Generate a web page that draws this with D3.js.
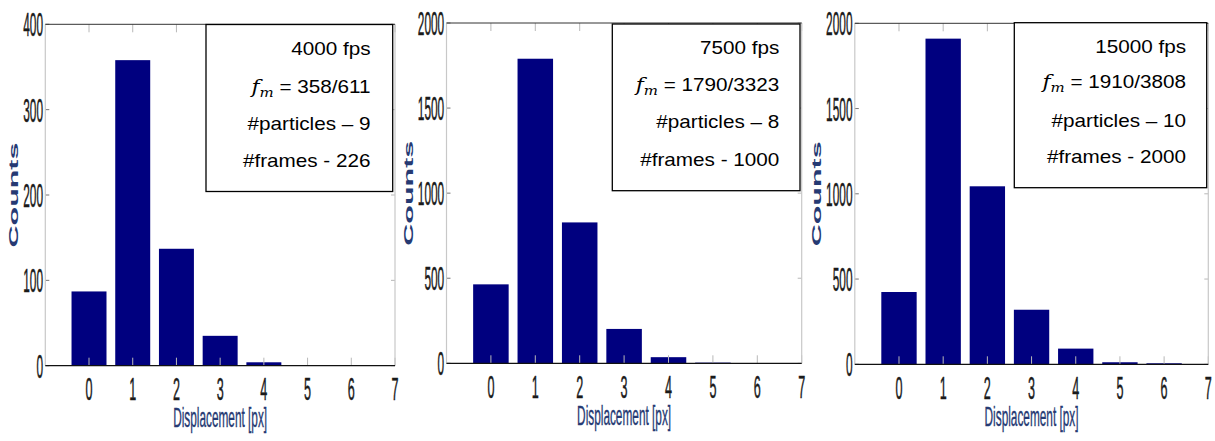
<!DOCTYPE html>
<html>
<head>
<meta charset="utf-8">
<script src="https://cdn.jsdelivr.net/npm/d3@7"></script>
<style>
  html, body { margin: 0; padding: 0; background: #fff; }
  svg { display: block; }
</style>
</head>
<body>
<svg id="chart" width="1215" height="441"></svg>
<script>
// Displacement bins shared by all three histograms
const categories = [0, 1, 2, 3, 4, 5, 6];
const xTickValues = [0, 1, 2, 3, 4, 5, 6, 7];

// Counts per displacement bin, one array per frame rate
const counts4000 = [87, 358, 137, 35, 4, 0, 0];
const counts7500 = [464, 1790, 828, 202, 36, 4, 0];
const counts15000 = [424, 1910, 1044, 320, 92, 12, 6];

// Y tick labels
const yTicks4000 = [0, 100, 200, 300, 400];
const yTicks7500 = [0, 500, 1000, 1500, 2000];
const yTicks15000 = [0, 500, 1000, 1500, 2000];

// Annotation box texts
const fpsLabels = ["4000 fps", "7500 fps", "15000 fps"];
const fmLabels = ["358/611", "1790/3323", "1910/3808"];
const particleLabels = ["#particles \u2013 9", "#particles \u2013 8", "#particles \u2013 10"];
const frameLabels = ["#frames - 226", "#frames - 1000", "#frames - 2000"];

const xLabel = "Displacement [px]";
const yLabel = "Counts";

// Panel geometry (pixels)
const panels = [
  { counts: counts4000, yTicks: yTicks4000,
    left: 45.3, right: 395, top: 24.3, bottom: 365.7,
    box: [206, 24.5, 392.7, 191.5], textRight: 370.5, baselines: [55, 92.5, 129.5, 166.5] },
  { counts: counts7500, yTicks: yTicks7500,
    left: 446.5, right: 801.7, top: 23, bottom: 363.3,
    box: [612.3, 24, 800, 190.7], textRight: 779.3, baselines: [54.3, 90.7, 128.3, 165.7] },
  { counts: counts15000, yTicks: yTicks15000,
    left: 854.8, right: 1208.3, top: 23.3, bottom: 364.3,
    box: [1014.3, 22.7, 1206.7, 187.7], textRight: 1186, baselines: [53.3, 88.3, 126.7, 163.3] }
];

const barColor = "#00007f";
const labelColor = "#263a73";
const tickTextColor = "#1a1a1a";
const narrowFont = "'Liberation Sans', Arial, sans-serif";
const digitWidth = 6.6;

const svg = d3.select("#chart");

panels.forEach((p, i) => {
  const g = svg.append("g");
  const yMax = d3.max(p.yTicks);

  const x = d3.scaleLinear().domain([-1, 7]).range([p.left, p.right]);
  const y = d3.scaleLinear().domain([0, yMax]).range([p.bottom, p.top]);
  const unit = x(1) - x(0);
  const barW = 0.8 * unit;

  // Bars
  g.selectAll("rect.bar")
    .data(categories.map((c, k) => ({ c, v: p.counts[k] })))
    .join("rect")
    .attr("class", "bar")
    .attr("x", d => x(d.c) - barW / 2)
    .attr("width", barW)
    .attr("y", d => y(d.v))
    .attr("height", d => y(0) - y(d.v))
    .attr("fill", barColor);

  // Inward tick marks on all four sides
  const tickCol = "#b8b8b8";
  xTickValues.forEach(t => {
    g.append("line").attr("x1", x(t)).attr("x2", x(t))
      .attr("y1", y(0)).attr("y2", y(0) - 8).attr("stroke", tickCol).attr("stroke-width", 1);
    g.append("line").attr("x1", x(t)).attr("x2", x(t))
      .attr("y1", y(yMax)).attr("y2", y(yMax) + 8).attr("stroke", tickCol).attr("stroke-width", 1);
  });
  p.yTicks.forEach(t => {
    g.append("line").attr("x1", x(-1)).attr("x2", x(-1) + 4)
      .attr("y1", y(t)).attr("y2", y(t)).attr("stroke", "#777").attr("stroke-width", 1);
    g.append("line").attr("x1", x(7)).attr("x2", x(7) - 4)
      .attr("y1", y(t)).attr("y2", y(t)).attr("stroke", tickCol).attr("stroke-width", 1);
  });

  // Frame: dark top/bottom, light left/right
  g.append("line").attr("x1", x(-1)).attr("x2", x(-1)).attr("y1", y(0)).attr("y2", y(yMax))
    .attr("stroke", "#c8c8c8").attr("stroke-width", 1.2);
  g.append("line").attr("x1", x(7)).attr("x2", x(7)).attr("y1", y(0)).attr("y2", y(yMax))
    .attr("stroke", "#c8c8c8").attr("stroke-width", 1.2);
  g.append("line").attr("x1", x(-1)).attr("x2", x(7)).attr("y1", y(yMax)).attr("y2", y(yMax))
    .attr("stroke", "#333").attr("stroke-width", 1);
  g.append("line").attr("x1", x(-1)).attr("x2", x(7)).attr("y1", y(0)).attr("y2", y(0))
    .attr("stroke", "#111").attr("stroke-width", 1.3);

  // Y tick labels (tall, condensed)
  g.selectAll("text.ytick")
    .data(p.yTicks)
    .join("text")
    .attr("class", "ytick")
    .attr("x", x(-1) - 2.3)
    .attr("y", d => y(d) + 12)
    .attr("text-anchor", "end")
    .attr("font-family", narrowFont)
    .attr("font-size", 34)
    .attr("fill", tickTextColor)
    .attr("stroke", tickTextColor)
    .attr("stroke-width", 0.5)
    .attr("textLength", d => String(d).length * digitWidth)
    .attr("lengthAdjust", "spacingAndGlyphs")
    .text(d => d);

  // X tick labels
  g.selectAll("text.xtick")
    .data(xTickValues)
    .join("text")
    .attr("class", "xtick")
    .attr("x", d => x(d))
    .attr("y", y(0) + 34.5)
    .attr("text-anchor", "middle")
    .attr("font-family", narrowFont)
    .attr("font-size", 31)
    .attr("fill", tickTextColor)
    .attr("stroke", tickTextColor)
    .attr("stroke-width", 0.5)
    .attr("textLength", d => String(d).length * 7)
    .attr("lengthAdjust", "spacingAndGlyphs")
    .text(d => d);

  // Axis titles
  g.append("text")
    .attr("x", (p.left + p.right) / 2)
    .attr("y", y(0) + 61.5)
    .attr("text-anchor", "middle")
    .attr("font-family", narrowFont)
    .attr("font-size", 28)
    .attr("fill", labelColor)
    .attr("stroke", labelColor)
    .attr("stroke-width", 0.4)
    .attr("textLength", 94)
    .attr("lengthAdjust", "spacingAndGlyphs")
    .text(xLabel);

  const maxDigits = d3.max(p.yTicks, t => String(t).length);
  const yLabelX = x(-1) - 2.3 - maxDigits * digitWidth - 5;
  const yLabelY = (p.top + p.bottom) / 2;
  g.append("text")
    .attr("transform", `translate(${yLabelX},${yLabelY}) rotate(-90)`)
    .attr("text-anchor", "middle")
    .attr("font-family", "'Liberation Sans', Arial, sans-serif")
    .attr("font-weight", "bold")
    .attr("font-size", 13)
    .attr("fill", labelColor)
    .attr("textLength", 105)
    .attr("lengthAdjust", "spacingAndGlyphs")
    .text(yLabel);

  // Annotation box
  const [bx0, by0, bx1, by1] = p.box;
  g.append("rect")
    .attr("x", bx0).attr("y", by0)
    .attr("width", bx1 - bx0).attr("height", by1 - by0)
    .attr("fill", "#fff").attr("stroke", "#000").attr("stroke-width", 1.3);

  const stretch = 1.15;
  const lineGroup = (baseline) => g.append("g")
    .attr("transform", `translate(${p.textRight},${baseline}) scale(${stretch},1)`);

  const txtStyle = sel => sel
    .attr("text-anchor", "end")
    .attr("font-family", "'Liberation Sans', Arial, sans-serif")
    .attr("font-size", 18)
    .attr("fill", "#000");

  lineGroup(p.baselines[0]).append("text").call(txtStyle).text(fpsLabels[i]);

  const fm = lineGroup(p.baselines[1]).append("text").call(txtStyle);
  fm.append("tspan")
    .attr("font-family", "'DejaVu Serif', 'Liberation Serif', serif")
    .attr("font-style", "italic")
    .attr("font-size", 19)
    .text("f");
  fm.append("tspan")
    .attr("font-family", "'DejaVu Serif', 'Liberation Serif', serif")
    .attr("font-style", "italic")
    .attr("font-size", 13)
    .attr("dy", 4)
    .text("m");
  fm.append("tspan")
    .attr("dy", -4)
    .text(" = " + fmLabels[i]);

  lineGroup(p.baselines[2]).append("text").call(txtStyle).text(particleLabels[i]);
  lineGroup(p.baselines[3]).append("text").call(txtStyle).text(frameLabels[i]);
});
</script>
</body>
</html>
